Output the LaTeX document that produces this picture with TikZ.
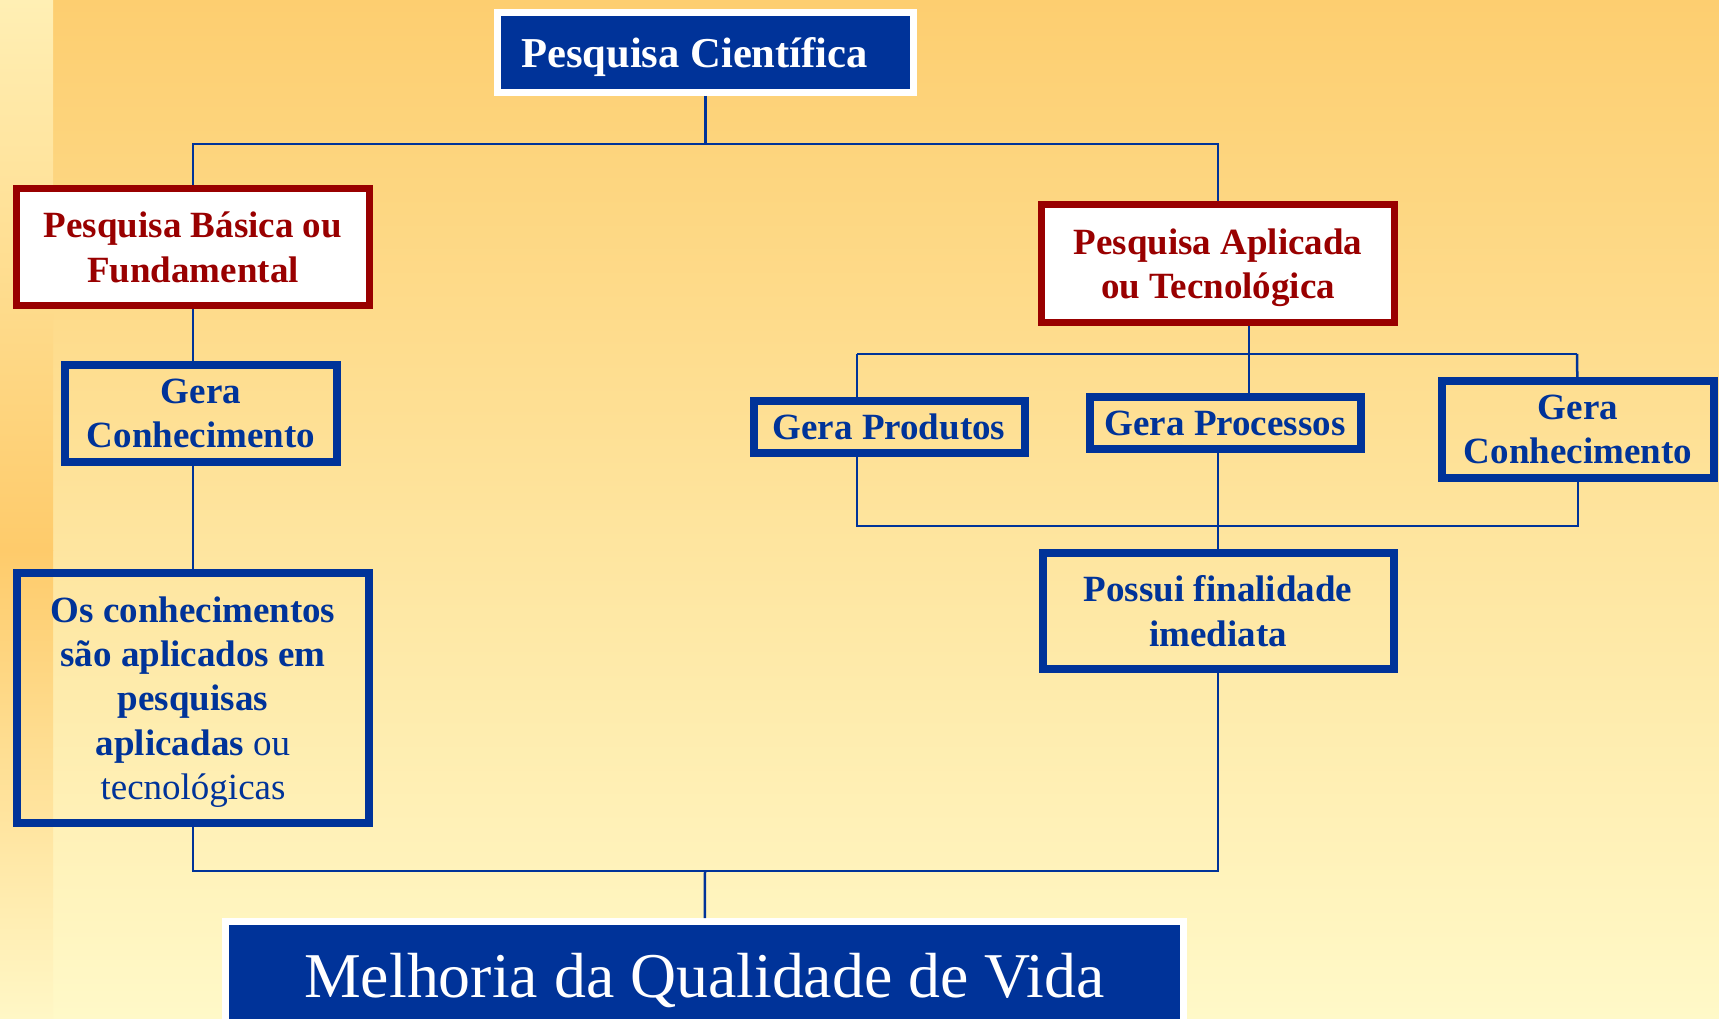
\documentclass[tikz,border=0pt]{standalone}
\usepackage{fontspec}
\setmainfont{Liberation Serif}
\usepackage{tikz}
\usetikzlibrary{positioning}

\definecolor{deepblue}{HTML}{003399}
\definecolor{darkred}{HTML}{990000}
\definecolor{bgtop}{HTML}{FDCE70}
\definecolor{bgbottom}{HTML}{FFF9C8}
\definecolor{striptop}{HTML}{FFEFB4}
\definecolor{stripmid}{HTML}{FECB6B}
\definecolor{stripbottom}{HTML}{FFF7C6}

\tikzset{
  link/.style={draw=deepblue, line width=2.5pt},
  basebox/.style={align=center, inner sep=0pt},
  redbox/.style={basebox, draw=darkred, fill=white, line width=7pt, text=darkred,
    text depth=0pt, font=\fontsize{37}{44.3}\selectfont\bfseries,
    minimum width=353pt, minimum height=117pt},
  bluebox/.style={basebox, draw=deepblue, line width=8pt, text=deepblue,
    text depth=0pt, font=\fontsize{37}{44.3}\selectfont\bfseries},
  titlebox/.style={basebox, draw=white, fill=deepblue, line width=7pt, text=white},
}

\begin{document}
\begin{tikzpicture}[x=1pt, y=-1pt]
  \useasboundingbox (0,0) rectangle (1719,1019);
  \clip (0,0) rectangle (1719,1019);
  \shade[top color=bgtop, bottom color=bgbottom] (53,0) rectangle (1719,1019);
  \shade[top color=striptop, bottom color=stripmid] (0,0) rectangle (53,550);
  \shade[top color=stripmid, bottom color=stripbottom] (0,550) rectangle (53,1019);

  \node[titlebox, text depth=0pt, font=\fontsize{42.6}{51}\selectfont\bfseries,
    minimum width=416pt, minimum height=80pt] (sci) at (705.5,52.5)
    {Pesquisa Científica\hspace{22pt}};

  \node[redbox, below left=89pt and 121pt of sci] (basic) {Pesquisa Básica ou\\Fundamental};
  \node[redbox, minimum height=118pt, below right=105pt and 121pt of sci] (applied)
    {Pesquisa Aplicada\\ou Tecnológica};

  \node[bluebox, minimum width=272pt, minimum height=97pt, below=52pt of basic, xshift=8pt] (genl)
    {Gera\\Conhecimento};
  \node[bluebox, font=\fontsize{37}{44.3}\selectfont, minimum width=352pt, minimum height=250pt,
    below=103pt of genl, xshift=-8pt] (apply)
    {\textbf{Os conhecimentos}\\\textbf{são aplicados em}\\\textbf{pesquisas}\\\textbf{aplicadas} ou\\tecnológicas};

  \node[bluebox, minimum width=271pt, minimum height=52pt, below=67pt of applied, xshift=7pt] (proc)
    {Gera Processos};
  \node[bluebox, minimum width=271pt, minimum height=52pt, left=57pt of proc, yshift=-4pt] (prod)
    {Gera Produtos};
  \node[bluebox, minimum width=272pt, minimum height=97pt, right=73.5pt of proc, yshift=-6.5pt] (genr)
    {Gera\\Conhecimento};
  \node[bluebox, minimum width=351pt, minimum height=116pt, below=96pt of proc, xshift=-7pt] (aim)
    {Possui finalidade\\imediata};

  \node[titlebox, font=\fontsize{63.8}{76}\selectfont, minimum width=958pt, minimum height=119pt]
    (life) at (704.5,981) {Melhoria da Qualidade de Vida};

  \coordinate (fork) at (705.5,144);
  \coordinate (hub) at (1249,354);
  \coordinate (barl) at (857,354);
  \coordinate (barr) at (1577,354);
  \coordinate (join) at (1217.5,526);
  \coordinate (merge) at (705,871);

  \draw[link] (sci) -- (fork);
  \draw[link] (basic) |- (fork) -| (applied);

  \draw[link] (basic) -- (basic.south |- genl.north);
  \draw[link] (genl.south -| apply.north) -- (apply);

  \draw[link] (applied.south -| hub) -- (hub);
  \draw[link] (barl) -- (barr);
  \draw[link] (barl) -- (barl |- prod.north);
  \draw[link] (hub) -- (hub |- proc.north);
  \draw[link] (barr) -- (genr);
  \draw[link] (barl |- prod.south) |- (join) -| (genr);
  \draw[link] (proc.south -| aim.north) -- (aim);

  \draw[link] (apply) |- (merge) -| (aim);
  \draw[link] (merge) -- (life);
\end{tikzpicture}
\end{document}
